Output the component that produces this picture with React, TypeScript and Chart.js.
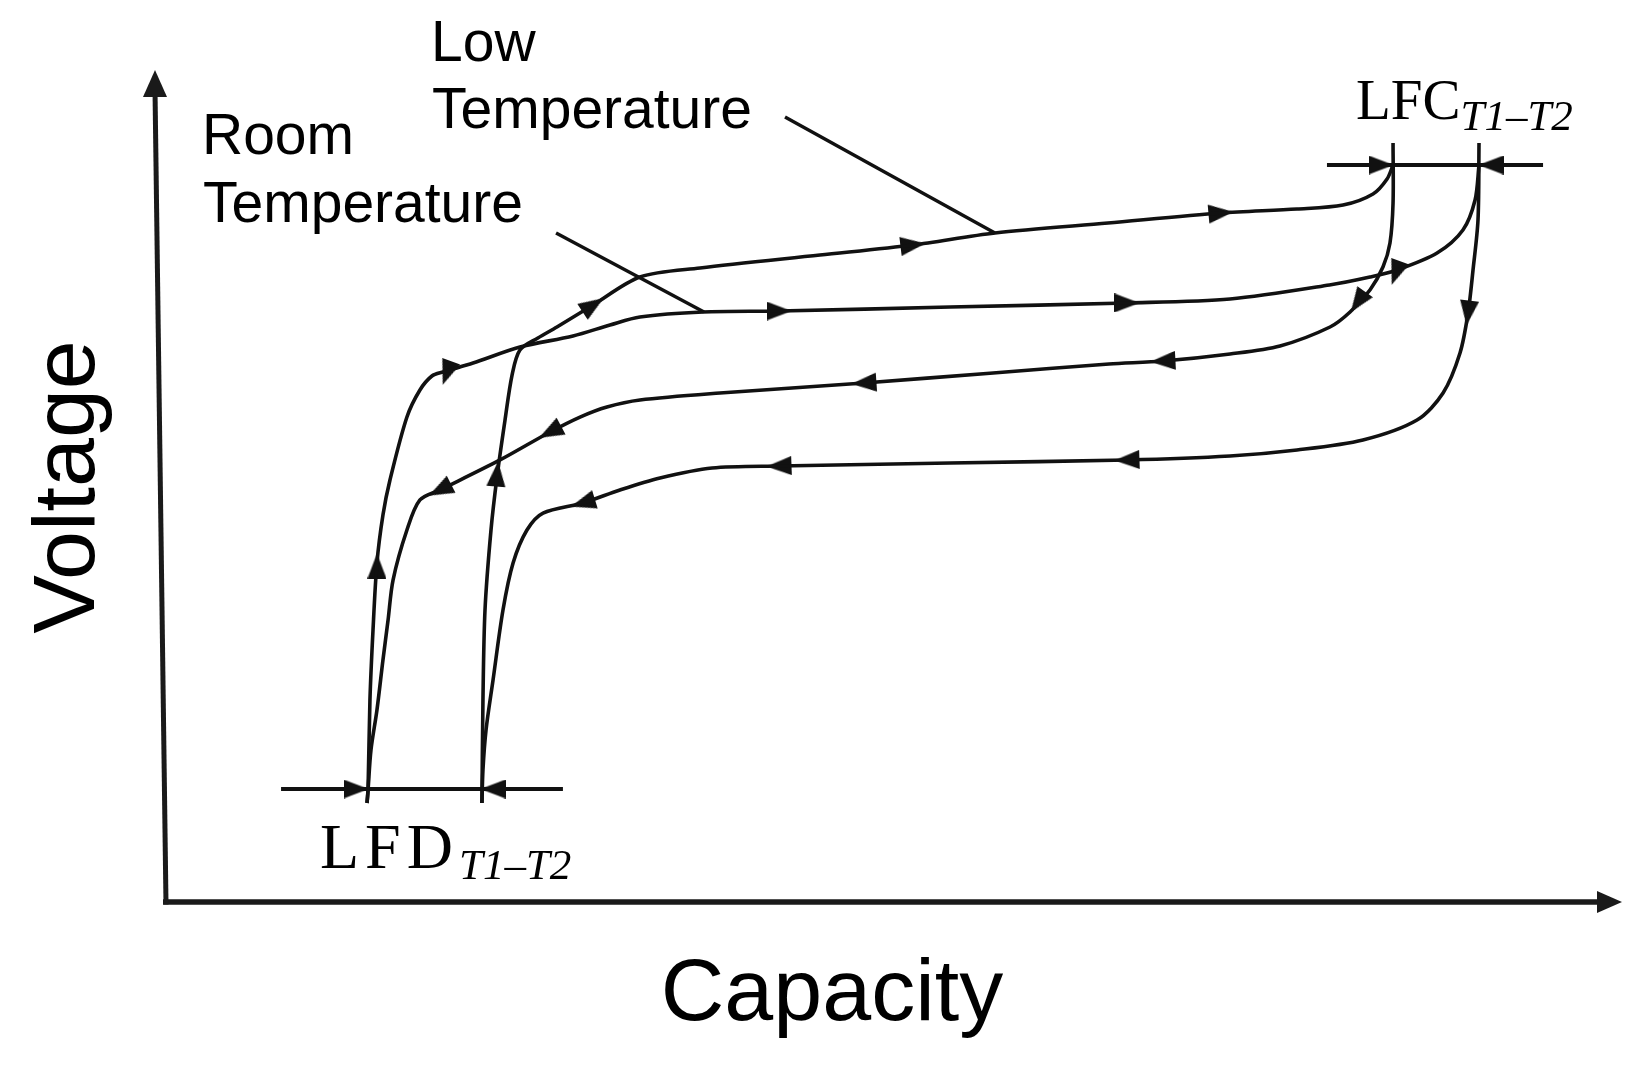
import React, { useEffect, useRef } from "react";
import { Chart, registerables } from "chart.js";

Chart.register(...registerables);

// ---------- data (capacity / voltage, arbitrary 0–100 units) ----------
const roomChargeCap = [14.16, 14.23, 14.36, 14.57, 14.84, 15.25, 15.73, 16.89, 17.78, 18.6, 19.36, 21.41, 24.62, 28.25, 30.78, 32.83, 37.14, 42.34, 54.04, 66.14, 73.19, 79.99, 82.76, 84.61, 87.35, 89.12, 89.95, 90.22];
const roomChargeV = [11.9, 13.46, 24.28, 32.69, 40.75, 46.51, 50.72, 58.29, 61.54, 63.22, 63.7, 64.78, 66.71, 68.03, 69.35, 70.31, 70.91, 71.03, 71.51, 72.0, 72.48, 74.16, 75.12, 75.96, 78.0, 80.77, 84.38, 88.58];

const lowChargeCap = [22.02, 22.09, 22.23, 22.64, 23.05, 23.6, 24.08, 24.62, 25.85, 27.15, 29.62, 32.83, 36.94, 45.14, 51.5, 57.11, 64.84, 72.57, 77.77, 80.92, 82.97, 83.93, 84.34];
const lowChargeV = [11.9, 24.28, 35.1, 44.71, 51.08, 57.93, 63.34, 66.35, 67.79, 69.11, 71.75, 75.12, 76.2, 77.76, 78.97, 80.41, 81.61, 82.81, 83.29, 83.77, 85.1, 86.9, 88.58];

const lowDischargeCap = [84.34, 84.34, 84.13, 83.65, 82.76, 81.4, 80.03, 76.61, 73.19, 68.6, 64.91, 56.77, 48.15, 38.3, 32.83, 30.57, 28.73, 26.68, 23.26, 19.15, 17.78, 16.89, 15.94, 15.6, 15.25, 14.84, 14.43, 14.23, 14.16];
const lowDischargeV = [91.23, 84.01, 79.21, 76.32, 73.56, 70.91, 69.11, 66.83, 65.87, 65.02, 64.66, 63.56, 62.38, 61.18, 60.34, 59.5, 58.29, 56.49, 53.13, 49.52, 48.32, 44.71, 38.7, 33.89, 29.09, 23.08, 18.27, 13.46, 11.9];

const roomDischargeCap = [90.22, 90.15, 89.81, 89.47, 88.92, 87.76, 85.98, 82.28, 77.77, 73.19, 66.14, 54.04, 42.34, 37.76, 34.2, 31.46, 28.93, 26.2, 25.1, 24.15, 23.46, 22.78, 22.3, 22.09, 22.02];
const roomDischargeV = [91.23, 81.97, 75.96, 70.79, 65.99, 61.18, 57.93, 55.53, 54.33, 53.61, 53.13, 52.76, 52.4, 52.16, 50.96, 49.52, 47.96, 46.75, 44.71, 40.75, 35.1, 26.68, 20.67, 15.87, 11.9];

// label leader lines
const roomPointerCap = [27.09, 37.21];
const roomPointerV = [80.41, 70.91];
const lowPointerCap = [42.75, 57.11];
const lowPointerV = [94.35, 80.41];

// LFC / LFD markers
const lfcCap = [79.82, 94.6];
const lfcV = [88.58, 88.58];
const lfdCap = [8.28, 27.56];
const lfdV = [13.58, 13.58];

// direction arrows on the curves and markers (position + heading in degrees, 0 = up)
const arrowCap = [14.84, 19.63, 42.34, 66.14, 84.54, 23.05, 29.62, 51.5, 72.57, 81.94, 68.6, 48.15, 26.68, 19.15, 89.47, 66.14, 42.34, 28.93, 83.52, 91.04, 13.41, 22.78];
const arrowV = [40.38, 63.58, 71.03, 72.0, 75.6, 51.44, 71.75, 78.97, 82.81, 72.12, 65.02, 62.38, 56.49, 49.52, 70.79, 53.13, 52.4, 47.96, 88.58, 88.58, 13.58, 13.58];
const arrowDir = [0, 200, 90, 90, 200, 5, 57, 83, 85, 215, 267, 266, 242, 243, 187, 268, 268, 253, 90, 270, 90, 270];

// text
const xTitle = "Capacity";
const yTitle = "Voltage";
const roomLabel = ["Room", "Temperature"];
const lowLabel = ["Low", "Temperature"];
const lfdMain = "LFD";
const lfcMain = "LFC";
const markerSub = "T1\u2013T2";

const INK = "#111111";

function pts(xs: number[], ys: number[]) {
  return xs.map((x, i) => ({ x, y: ys[i] }));
}

function makeArrowImage(w: number, h: number): HTMLCanvasElement {
  const c = document.createElement("canvas");
  c.width = w;
  c.height = h;
  const g = c.getContext("2d")!;
  g.fillStyle = INK;
  g.beginPath();
  g.moveTo(w / 2, 0);
  g.lineTo(w, h);
  g.lineTo(0, h);
  g.closePath();
  g.fill();
  return c;
}

const decorPlugin = {
  id: "decor",
  beforeDatasetsDraw(chart: any) {
    const { ctx, scales } = chart;
    const x0 = scales.x.getPixelForValue(0);
    const y0 = scales.y.getPixelForValue(0);
    const xEnd = scales.x.getPixelForValue(100);
    const yEnd = scales.y.getPixelForValue(100);
    ctx.save();
    ctx.strokeStyle = "#1a1a1a";
    ctx.fillStyle = "#1a1a1a";
    // x axis
    ctx.lineWidth = 5.5;
    ctx.beginPath();
    ctx.moveTo(x0 + 3, y0);
    ctx.lineTo(xEnd - 18, y0);
    ctx.stroke();
    ctx.beginPath();
    ctx.moveTo(xEnd, y0);
    ctx.lineTo(xEnd - 25, y0 - 11);
    ctx.lineTo(xEnd - 25, y0 + 11);
    ctx.closePath();
    ctx.fill();
    // y axis (slightly slanted like the scanned figure)
    ctx.lineWidth = 5;
    ctx.beginPath();
    ctx.moveTo(x0 + 6, y0 + 2.5);
    ctx.lineTo(x0 - 5, yEnd + 20);
    ctx.stroke();
    ctx.beginPath();
    ctx.moveTo(x0 - 5, yEnd);
    ctx.lineTo(x0 - 17, yEnd + 27);
    ctx.lineTo(x0 + 7, yEnd + 27);
    ctx.closePath();
    ctx.fill();
    ctx.restore();
  },
  afterDraw(chart: any) {
    const { ctx } = chart;
    ctx.save();
    ctx.fillStyle = "#000";
    ctx.textBaseline = "alphabetic";
    // axis titles
    ctx.font = "88px 'Liberation Sans', Arial, sans-serif";
    ctx.textAlign = "center";
    ctx.fillText(xTitle, 832, 1020);
    ctx.save();
    ctx.translate(94, 487);
    ctx.rotate(-Math.PI / 2);
    ctx.fillText(yTitle, 0, 0);
    ctx.restore();
    // curve labels
    ctx.textAlign = "left";
    ctx.font = "57px 'Liberation Sans', Arial, sans-serif";
    ctx.fillText(lowLabel[0], 431, 61);
    ctx.fillText(lowLabel[1], 432, 128);
    ctx.fillText(roomLabel[0], 202, 154);
    ctx.fillText(roomLabel[1], 203, 222);
    // LFD
    ctx.font = "64px 'Liberation Serif', 'Times New Roman', serif";
    (ctx as any).letterSpacing = "6px";
    ctx.fillText(lfdMain, 320, 868);
    (ctx as any).letterSpacing = "0px";
    ctx.font = "italic 43px 'Liberation Serif', 'Times New Roman', serif";
    ctx.fillText(markerSub, 459, 879);
    // LFC
    ctx.font = "57px 'Liberation Serif', 'Times New Roman', serif";
    ctx.fillText(lfcMain, 1356, 119);
    const w = ctx.measureText(lfcMain).width;
    ctx.font = "italic 43px 'Liberation Serif', 'Times New Roman', serif";
    ctx.fillText(markerSub, 1356 + w, 130);
    ctx.restore();
  },
};

export default function App() {
  const ref = useRef<HTMLCanvasElement>(null);

  useEffect(() => {
    const canvas = ref.current;
    if (!canvas) return;
    const arrowImg = makeArrowImage(19, 25);

    const curve = (label: string, xs: number[], ys: number[], tension = 0.3, width = 3.6) => ({
      label,
      data: pts(xs, ys),
      showLine: true,
      borderColor: INK,
      backgroundColor: INK,
      borderWidth: width,
      pointRadius: 0,
      tension,
      fill: false,
    });

    const chart = new Chart(canvas, {
      type: "scatter",
      data: {
        datasets: [
          curve("Room temperature charge", roomChargeCap, roomChargeV),
          curve("Low temperature charge", lowChargeCap, lowChargeV),
          curve("Low temperature discharge", lowDischargeCap, lowDischargeV),
          curve("Room temperature discharge", roomDischargeCap, roomDischargeV),
          curve("Room label pointer", roomPointerCap, roomPointerV, 0, 3.4),
          curve("Low label pointer", lowPointerCap, lowPointerV, 0, 3.4),
          curve("LFC", lfcCap, lfcV, 0, 3.8),
          curve("LFD", lfdCap, lfdV, 0, 3.8),
          {
            label: "Direction",
            data: pts(arrowCap, arrowV),
            showLine: false,
            pointStyle: arrowImg,
            pointRadius: 9,
            pointRotation: (c: any) => arrowDir[c.dataIndex] ?? 0,
            borderColor: INK,
            backgroundColor: INK,
          } as any,
        ],
      },
      options: {
        responsive: false,
        animation: false,
        devicePixelRatio: 1,
        events: [],
        layout: { padding: { left: 160, right: 20, top: 70, bottom: 168 } },
        plugins: { legend: { display: false }, tooltip: { enabled: false } },
        scales: {
          x: { type: "linear", min: 0, max: 100, display: false },
          y: { type: "linear", min: 0, max: 100, display: false },
        },
      },
      plugins: [decorPlugin],
    } as any);

    return () => chart.destroy();
  }, []);

  return (
    <div style={{ position: "absolute", left: 0, top: 0, width: 1642, height: 1070, background: "#fff" }}>
      <canvas ref={ref} width={1642} height={1070} style={{ width: 1642, height: 1070, display: "block" }} />
    </div>
  );
}
